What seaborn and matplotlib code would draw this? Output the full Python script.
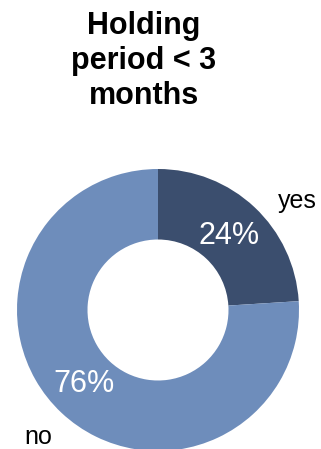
import matplotlib
matplotlib.use("Agg")
import matplotlib.pyplot as plt
import seaborn as sns

categories = ["yes", "no"]
values = [24, 76]
pct_labels = ["24%", "76%"]
title = "Holding\nperiod < 3\nmonths"

sns.set_theme(style="white")
plt.rcParams["font.family"] = ["Liberation Sans", "DejaVu Sans"]
plt.rcParams["text.color"] = "black"
colors = ["#3b4e6e", "#6e8dbb"]

W, H = 321, 449
fig = plt.figure(figsize=(W / 100, H / 100), dpi=100)
ax = fig.add_axes([0, 0, 1, 1])
ax.set_xlim(0, W)
ax.set_ylim(0, H)
ax.set_aspect("equal")
ax.axis("off")

cx, cy, r = 158, H - 310, 141
ax.pie(values, colors=colors, startangle=90, counterclock=False,
       center=(cx, cy), radius=r, frame=True,
       wedgeprops=dict(width=r * 0.5, linewidth=0))
ax.set_xlim(0, W)
ax.set_ylim(0, H)
ax.axis("off")

ax.text(229, H - 236, pct_labels[0], color="white", fontsize=22, ha="center", va="center")
ax.text(84, H - 384, pct_labels[1], color="white", fontsize=22, ha="center", va="center")
ax.text(297, H - 201, categories[0], color="black", fontsize=18, ha="center", va="center")
ax.text(38, H - 437, categories[1], color="black", fontsize=18, ha="center", va="center")

ax.text(144, H - 61, title, color="black", fontsize=22, fontweight="bold",
        ha="center", va="center", linespacing=1.2)

fig.savefig("out.png", dpi=100)
